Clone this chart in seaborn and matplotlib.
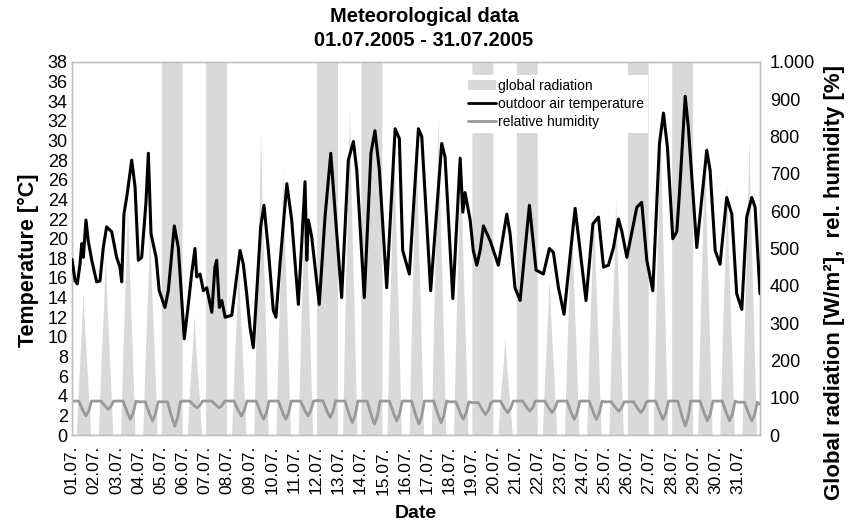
import numpy as np
import pandas as pd
import matplotlib
matplotlib.use("Agg")
import matplotlib.pyplot as plt
import matplotlib.transforms as mtransforms
from matplotlib.patches import Patch
from matplotlib.lines import Line2D
import seaborn as sns

# ---------------- data ----------------
day_labels = [f"{d:02d}.07." for d in range(1, 32)]

# outdoor air temperature [°C]; time in days since 01.07. 00:00
temp_t = [0.00, 0.14, 0.24, 0.36, 0.44, 0.51, 0.63, 0.73, 0.89, 1.11, 1.26, 1.41, 1.56, 1.79,
          2.01, 2.16, 2.24, 2.34, 2.49, 2.69, 2.84, 2.99, 3.14, 3.33, 3.44, 3.56, 3.79, 3.93,
          4.19, 4.34, 4.61, 4.79, 5.06, 5.24, 5.39, 5.54, 5.62, 5.77, 5.92, 6.07, 6.30, 6.44,
          6.52, 6.64, 6.75, 6.90, 7.20, 7.57, 7.72, 7.87, 8.02, 8.17, 8.32, 8.50, 8.65, 8.85,
          9.07, 9.19, 9.37, 9.68, 9.90, 10.20, 10.50, 10.58, 10.65, 10.80, 11.14, 11.40, 11.66,
          11.85, 12.15, 12.45, 12.68, 12.83, 13.17, 13.47, 13.65, 13.85, 14.18, 14.56, 14.75,
          14.90, 15.20, 15.61, 15.76, 16.16, 16.66, 16.81, 17.16, 17.49, 17.61, 17.71, 17.94,
          18.08, 18.24, 18.39, 18.54, 18.84, 19.21, 19.59, 19.74, 19.96, 20.19, 20.61, 20.91,
          21.24, 21.51, 21.69, 21.92, 22.17, 22.67, 23.16, 23.47, 23.72, 23.95, 24.17, 24.40,
          24.62, 24.77, 25.00, 25.45, 25.67, 25.90, 26.17, 26.47, 26.65, 26.83, 27.07, 27.25,
          27.37, 27.63, 27.77, 28.15, 28.60, 28.75, 28.98, 29.20, 29.50, 29.73, 29.95, 30.18,
          30.40, 30.63, 30.78, 31.00]
temp_v = [17.9, 15.7, 15.4, 17.4, 19.5, 18.1, 21.9, 19.8, 17.8, 15.6, 15.7, 19.1, 21.2, 20.7,
          18.1, 17.1, 15.6, 22.5, 24.6, 28.0, 25.3, 17.8, 18.1, 23.6, 28.7, 20.5, 18.1, 14.7,
          13.0, 14.7, 21.3, 19.1, 9.8, 13.3, 16.4, 19.0, 16.1, 16.4, 14.7, 15.0, 12.5, 17.1,
          17.8, 13.0, 13.7, 12.0, 12.2, 18.8, 17.4, 14.4, 11.0, 8.9, 14.4, 21.2, 23.4, 18.8,
          12.7, 12.0, 17.4, 25.6, 21.9, 13.3, 25.8, 17.8, 21.9, 20.2, 13.3, 22.2, 28.7,
          22.9, 14.0, 28.0, 29.9, 27.0, 14.0, 28.7, 31.0, 27.0, 15.0, 31.2, 30.2,
          18.8, 16.4, 31.2, 30.4, 14.7, 29.7, 28.3, 13.9, 28.2, 22.7, 24.7, 21.9,
          18.8, 17.3, 18.8, 21.3, 19.8, 17.3, 22.5, 20.5, 15.0, 13.7, 23.4, 16.8,
          16.4, 19.0, 18.6, 15.0, 12.3, 23.1, 13.7, 21.5, 22.2, 17.1, 17.3, 19.1,
          22.0, 20.8, 18.1, 23.2, 23.7, 17.8, 14.7, 29.7, 32.8, 29.3, 20.0, 20.7,
          24.6, 34.5, 31.4, 19.1, 29.0, 27.0, 18.8, 17.4, 24.2, 22.5, 14.4, 12.8,
          22.2, 24.2, 23.2, 14.4]

# relative humidity [%]: night level and afternoon minimum per day
hum_night = [91, 91, 91, 89, 89, 91, 91, 91, 91, 91, 91, 92, 91, 91, 91, 91,
             91, 89, 87, 91, 91, 91, 91, 91, 89, 89, 91, 91, 91, 91, 88]
hum_min = [51, 69, 42, 38, 24, 73, 73, 51, 42, 42, 51, 47, 33, 29, 38, 29,
           33, 42, 55, 60, 64, 60, 42, 42, 64, 60, 42, 24, 38, 38, 38]

# global radiation [W/m²]: daily peak; saturated days exceed the axis range
rad_peak = [380, 480, 620, 560, 1000, 320, 1000, 460, 810, 710, 700, 1000, 880, 1000, 800, 820,
            850, 750, 1000, 260, 1000, 420, 610, 620, 630, 1000, 850, 1000, 780, 670, 790]
rad_saturated = [False, False, False, False, True, False, True, False, False, False, False,
                 True, False, True, False, False, False, False, True, False, True, False,
                 False, False, False, True, False, True, False, False, False]

# ---------------- build frames ----------------
temp_df = pd.DataFrame({"t": temp_t, "v": temp_v})

hum_t, hum_v = [], []
for d in range(31):
    hum_t += [d + 0.0, d + 0.30, d + 0.50, d + 0.63, d + 0.76, d + 0.88]
    lo = hum_min[d]
    hi = hum_night[d]
    hum_v += [hi, hi, lo + 0.35 * (hi - lo), lo, lo + 0.35 * (hi - lo), hi]
hum_t.append(31.0)
hum_v.append(82)
hum_df = pd.DataFrame({"t": hum_t, "v": hum_v})

rad_t, rad_v = [], []
for d in range(31):
    p = rad_peak[d]
    if rad_saturated[d]:
        rad_t += [d + 0.02, d + 0.021, d + 0.96, d + 0.961]
        rad_v += [0, 1100, 1100, 0]
    else:
        rad_t += [d + 0.19, d + 0.30, d + 0.42, d + 0.50, d + 0.58, d + 0.71, d + 0.84]
        rad_v += [0, 0.38 * p, 0.72 * p, p, 0.72 * p, 0.38 * p, 0]

# ---------------- plot ----------------
sns.set_theme(style="white")
plt.rcParams["font.family"] = ["Liberation Sans", "DejaVu Sans"]
plt.rcParams.update({"text.color": "black", "axes.labelcolor": "black",
                     "xtick.color": "black", "ytick.color": "black"})

fig = plt.figure(figsize=(8.48, 5.23), dpi=100)
ax = fig.add_axes([72 / 848, 1 - 435 / 523, 688 / 848, 373 / 523])
ax2 = ax.twinx()

grey_fill = "#d9d9d9"
ax2.fill_between(rad_t, rad_v, 0, color=grey_fill, linewidth=0, zorder=1)
sns.lineplot(data=hum_df, x="t", y="v", ax=ax2, color="#999999", linewidth=2.0, zorder=3)

sns.lineplot(data=temp_df, x="t", y="v", ax=ax, color="black", linewidth=2.2, zorder=4)
ax.set_zorder(ax2.get_zorder() + 1)
ax.patch.set_visible(False)

ax.set_xlim(0, 31)
ax.set_ylim(0, 38)
ax2.set_ylim(0, 1000)

tick_fs = 13
ax.set_yticks(range(0, 39, 2))
ax.set_yticklabels([str(v) for v in range(0, 39, 2)], fontsize=tick_fs)
ax2.set_yticks(range(0, 1001, 100))
ax2.set_yticklabels(["0", "100", "200", "300", "400", "500", "600", "700", "800", "900", "1.000"],
                    fontsize=tick_fs)
ax.set_xticks(range(31))
ax.set_xticklabels(day_labels, rotation=90, fontsize=12.5)
offset = mtransforms.ScaledTranslation(-7 / 100, 0, fig.dpi_scale_trans)
for lab in ax.get_xticklabels():
    lab.set_transform(lab.get_transform() + offset)

ax.tick_params(axis="y", length=0, pad=3, colors="black")
ax.tick_params(axis="x", length=0, pad=8, colors="black")
ax2.tick_params(axis="y", length=0, pad=7, colors="black")

for a in (ax, ax2):
    for s in a.spines.values():
        s.set_color("#c0c0c0")
        s.set_linewidth(1.0)

ax.set_xlabel("Date", fontsize=14, fontweight="bold", color="black")
ax.xaxis.set_label_coords(0.5, (435 - 514) / 373)
ax.xaxis.label.set_va("center")
ax.set_ylabel("Temperature [°C]", fontsize=15.5, fontweight="bold", color="black")
ax.yaxis.set_label_coords((28 - 72) / 688, (435 - 260) / 373)
ax.yaxis.label.set_va("center")
ax2.set_ylabel("Global radiation [W/m²],  rel. humidity [%]", fontsize=16,
               fontweight="bold", color="black")
ax2.yaxis.set_label_coords((835 - 72) / 688, (435 - 282) / 373)
ax2.yaxis.label.set_va("center")

fig.text(0.5, 1 - 7 / 523, "Meteorological data\n01.07.2005 - 31.07.2005", ha="center", va="top",
         fontsize=14.5, fontweight="bold", linespacing=1.35, color="black")

handles = [Patch(facecolor=grey_fill, edgecolor="none"),
           Line2D([0], [0], color="black", linewidth=2),
           Line2D([0], [0], color="#999999", linewidth=2)]
labels = ["global radiation", "outdoor air temperature", "relative humidity"]
leg = ax.legend(handles, labels, loc="upper left", bbox_to_anchor=(0.56, 0.985),
                frameon=True, fontsize=10, handlelength=2.0, handletextpad=0.15,
                labelspacing=0.3, borderpad=0.3, fancybox=False)
leg.get_frame().set_facecolor("white")
leg.get_frame().set_edgecolor("none")
leg.get_frame().set_alpha(1)
for t in leg.get_texts():
    t.set_color("black")

fig.savefig("out.png", dpi=100)
